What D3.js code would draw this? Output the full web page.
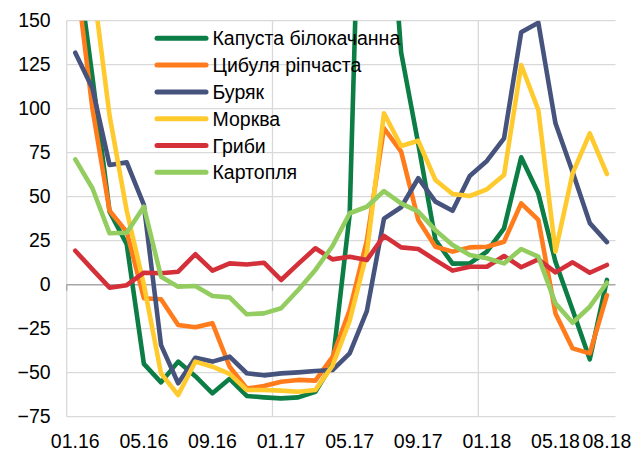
<!DOCTYPE html>
<html>
<head>
<meta charset="utf-8">
<script src="https://cdn.jsdelivr.net/npm/d3@7/dist/d3.min.js"></script>
<style>
  html, body { margin: 0; padding: 0; background: #fff; }
  svg { display: block; }
  text { font-family: "Liberation Sans", Arial, sans-serif; fill: #000; }
</style>
</head>
<body>
<svg id="chart" width="633" height="450"></svg>
<script>
const categories = ["01.16","02.16","03.16","04.16","05.16","06.16","07.16","08.16","09.16","10.16","11.16","12.16",
  "01.17","02.17","03.17","04.17","05.17","06.17","07.17","08.17","09.17","10.17","11.17","12.17",
  "01.18","02.18","03.18","04.18","05.18","06.18","07.18","08.18"];
const tickLabels = ["01.16","05.16","09.16","01.17","05.17","09.17","01.18","05.18","08.18"];
const yTicks = [-75, -50, -25, 0, 25, 50, 75, 100, 125, 150];
const seriesNames = ["Капуста білокачанна","Цибуля ріпчаста","Буряк","Морква","Гриби","Картопля"];
const seriesColors = ["#0b7d45","#ff7b1c","#46537d","#ffca2e","#d4303a","#93cd60"];

const kapusta = [192, 118, 41.5, 23, -45, -55.5, -43.7, -52, -61.7, -53.5, -63.2, -64, -64.6, -64, -60.8, -45,
  40, 380, 262, 132, 80, 25.4, 12, 12.1, 18.8, 32, 72.4, 51.9, 13, -14.4, -42.4, 2.7];
const tsybulia = [180, 100, 42, 30, -7.7, -8.3, -22.9, -24.2, -21.9, -46.6, -59, -57.6, -55.1, -54.1, -54.5, -41,
  -14.4, 25, 88.9, 75.6, 36.8, 21.6, 18.8, 21.2, 21.6, 24.4, 46.2, 36.8, -16.3, -36.2, -39, -5.9];
const buriak = [131.8, 111.6, 68, 69.5, 45.3, -34.3, -56, -41.5, -43.7, -40.9, -50.3, -51.5, -50.4, -49.8, -49, -48.5,
  -39, -15, 37.5, 44, 60.5, 47.2, 42, 61.8, 70.3, 83.2, 143.4, 148.9, 91.7, 64, 35, 24.2];
const morkva = [230, 173, 96, 42, 0, -50.4, -62.7, -43.7, -46.6, -50.7, -59.8, -59.8, -60.2, -60.8, -59.8, -46,
  -20.5, 18, 97.4, 78.8, 81.8, 59.5, 51.5, 50.4, 54.2, 62.3, 124.8, 99.3, 18.8, 63.3, 86, 62.9];
const hryby = [19.3, 8.7, -1.7, -0.3, 6.8, 6.5, 7.4, 17.3, 8.0, 12.1, 11.5, 12.5, 2.7, 11.8, 20.7, 14.4,
  15.9, 14.0, 27.7, 21.2, 20.3, 14.0, 8.0, 10.2, 10.2, 16.3, 9.9, 14.4, 7.0, 12.7, 6.8, 11.2];
const kartoplia = [71.2, 54.8, 29.2, 29.5, 44.3, 4.5, -1.1, -0.7, -6.4, -7.2, -16.8, -16.3, -13.4, -3.0, 8.4, 22,
  40.6, 44.3, 53.2, 46.2, 41.5, 31, 22.6, 16.9, 15.0, 12.1, 20.3, 15.9, -10.6, -21.6, -12.5, 1.1];
const titleText = "Динаміка роздрібних цін на окремі овочі та гриби, % р/р";

const seriesValues = [kapusta, tsybulia, buriak, morkva, hryby, kartoplia];

(function () {
const svg = d3.select("#chart");
const pL = 66.7, pR = 615.5, pT = 20.7, pB = 416.7;
const FS = "19.5px";

const x = d3.scaleBand().domain(categories).range([pL, pR]).paddingInner(0).paddingOuter(0);
const y = d3.scaleLinear().domain([-75, 150]).range([pB, pT]);
const cx = c => x(c) + x.bandwidth() / 2;

// title, cut off by the top edge as in the source image
svg.append("text").attr("x", 0).attr("y", -4).style("font-size", "18px").text(titleText);

// horizontal gridlines
svg.append("g").selectAll("line").data(yTicks.filter(v => v !== 0)).join("line")
  .attr("x1", pL).attr("x2", pR)
  .attr("y1", d => y(d)).attr("y2", d => y(d))
  .attr("stroke", "#d9d9d9").attr("stroke-width", 1.3);

// vertical gridlines at year boundaries
const yearStarts = categories.filter((c, i) => i % 12 === 0);
svg.append("g").selectAll("line").data(yearStarts).join("line")
  .attr("x1", d => x(d)).attr("x2", d => x(d))
  .attr("y1", pT).attr("y2", pB)
  .attr("stroke", "#d9d9d9").attr("stroke-width", 1.3);

// zero axis line + ticks
svg.append("line").attr("x1", pL).attr("x2", pR)
  .attr("y1", y(0)).attr("y2", y(0))
  .attr("stroke", "#a6a6a6").attr("stroke-width", 1.6);
svg.append("g").selectAll("line").data(yearStarts).join("line")
  .attr("x1", d => x(d)).attr("x2", d => x(d))
  .attr("y1", y(0)).attr("y2", y(0) + 6)
  .attr("stroke", "#a6a6a6").attr("stroke-width", 1.3);

// y axis labels
const yAxis = svg.append("g").attr("transform", `translate(${pL},0)`)
  .call(d3.axisLeft(y).tickValues(yTicks).tickSize(0).tickPadding(16));
yAxis.select(".domain").remove();
yAxis.selectAll("text").style("font-size", FS).style("font-family", "'Liberation Sans', Arial, sans-serif").attr("fill", "#000");

// x axis labels
const xAxis = svg.append("g").attr("transform", `translate(0,${pB})`)
  .call(d3.axisBottom(x).tickValues(tickLabels).tickSize(0).tickPadding(17));
xAxis.select(".domain").remove();
xAxis.selectAll("text").style("font-size", FS).style("font-family", "'Liberation Sans', Arial, sans-serif").attr("fill", "#000");

// clip
svg.append("defs").append("clipPath").attr("id", "plotclip")
  .append("rect").attr("x", pL - 5).attr("y", pT).attr("width", pR - pL + 10).attr("height", pB - pT);

const line = d3.line().x((d, i) => cx(categories[i])).y(d => y(d));
const lines = svg.append("g").attr("clip-path", "url(#plotclip)");
seriesValues.forEach((vals, k) => {
  lines.append("path").datum(vals)
    .attr("d", line)
    .attr("fill", "none")
    .attr("stroke", seriesColors[k])
    .attr("stroke-width", 4.6)
    .attr("stroke-linejoin", "round")
    .attr("stroke-linecap", "round");
});

// legend
const lg = svg.append("g");
seriesNames.forEach((name, k) => {
  const ly = 38.3 + k * 26.8;
  lg.append("line").attr("x1", 157).attr("x2", 206).attr("y1", ly).attr("y2", ly)
    .attr("stroke", seriesColors[k]).attr("stroke-width", 5).attr("stroke-linecap", "round");
  lg.append("text").attr("x", 212.5).attr("y", ly).attr("dy", "0.36em")
    .style("font-size", FS).text(name);
});
})();
</script>
</body>
</html>
